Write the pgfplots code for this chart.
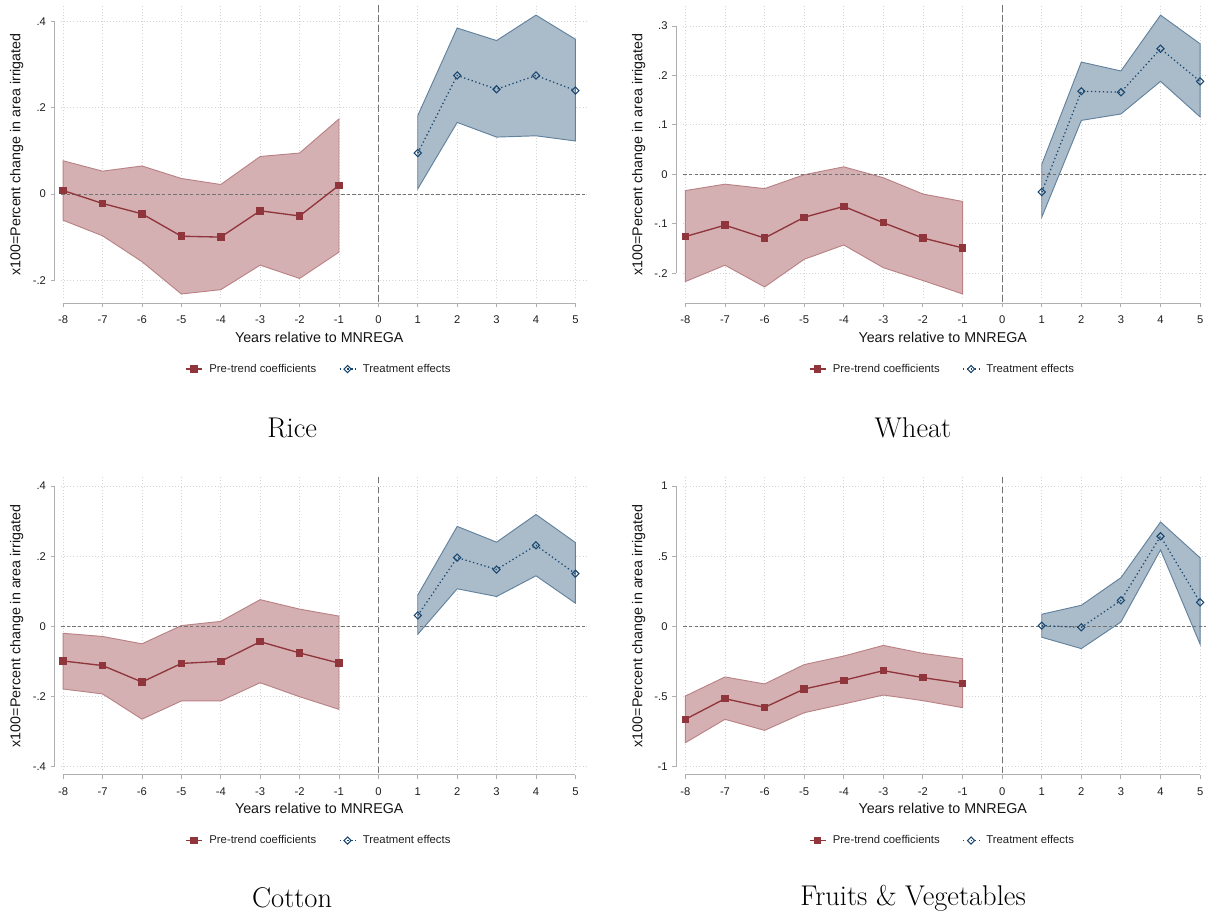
\documentclass[border=0pt]{standalone}
\usepackage{fontspec}
\usepackage{pgfplots}
\pgfplotsset{compat=1.18}
\usepackage{pgfplotstable}
\usepgfplotslibrary{fillbetween}
\newfontfamily\arial{Liberation Sans}

\definecolor{stmaroon}{RGB}{144,53,59}
\definecolor{stnavy}{RGB}{26,71,111}
\colorlet{prefill}{stmaroon!39!white}
\colorlet{preedge}{stmaroon!62!white}
\colorlet{postfill}{stnavy!37!white}
\colorlet{postedge}{stnavy!68!white}
\definecolor{axgray}{RGB}{175,175,175}
\definecolor{gridgray}{RGB}{212,212,212}
\definecolor{refgray}{RGB}{115,115,115}

\tikzset{paneltitle/.style={font=\fontsize{21.4}{25}\selectfont}}

% event-study estimates: x = year relative to MNREGA, b = point estimate, lo/hi = CI
\pgfplotstableread{
x   b       lo      hi
-8  0.008  -0.061   0.077
-7 -0.022  -0.097   0.053
-6 -0.046  -0.157   0.065
-5 -0.098  -0.232   0.036
-4 -0.100  -0.222   0.022
-3 -0.039  -0.165   0.087
-2 -0.051  -0.196   0.095
-1  0.020  -0.135   0.174
}\ricePre
\pgfplotstableread{
x   b       lo      hi
1   0.095   0.012   0.182
2   0.275   0.166   0.385
3   0.243   0.132   0.356
4   0.275   0.135   0.415
5   0.240   0.123   0.359
}\ricePost
\pgfplotstableread{
x   b       lo      hi
-8 -0.126  -0.217  -0.033
-7 -0.103  -0.184  -0.020
-6 -0.129  -0.228  -0.029
-5 -0.087  -0.172  -0.001
-4 -0.065  -0.143   0.015
-3 -0.098  -0.189  -0.007
-2 -0.129  -0.215  -0.040
-1 -0.149  -0.242  -0.055
}\wheatPre
\pgfplotstableread{
x   b       lo      hi
1  -0.036  -0.087   0.020
2   0.168   0.109   0.227
3   0.166   0.122   0.209
4   0.254   0.188   0.322
5   0.188   0.116   0.264
}\wheatPost
\pgfplotstableread{
x   b       lo      hi
-8 -0.099  -0.179  -0.020
-7 -0.112  -0.193  -0.029
-6 -0.159  -0.265  -0.050
-5 -0.106  -0.213   0.002
-4 -0.100  -0.213   0.014
-3 -0.044  -0.161   0.076
-2 -0.076  -0.201   0.049
-1 -0.105  -0.237   0.029
}\cottonPre
\pgfplotstableread{
x   b       lo      hi
1   0.031  -0.023   0.089
2   0.196   0.107   0.285
3   0.162   0.085   0.240
4   0.231   0.144   0.319
5   0.150   0.066   0.239
}\cottonPost
\pgfplotstableread{
x   b       lo      hi
-8 -0.663  -0.830  -0.497
-7 -0.516  -0.663  -0.361
-6 -0.578  -0.742  -0.411
-5 -0.447  -0.616  -0.273
-4 -0.385  -0.554  -0.212
-3 -0.316  -0.490  -0.136
-2 -0.366  -0.530  -0.193
-1 -0.407  -0.580  -0.231
}\fruitPre
\pgfplotstableread{
x   b       lo      hi
1   0.005  -0.078   0.086
2  -0.007  -0.159   0.150
3   0.185   0.031   0.347
4   0.642   0.545   0.744
5   0.171  -0.128   0.488
}\fruitPost

\pgfplotsset{
  evplot/.style={
    scale only axis, clip=false,
    axis x line=bottom, axis y line=left,
    axis line style={draw=none},
    axis x line shift=4pt,
    xmin=-8.05,
    xtick={-8,-7,-6,-5,-4,-3,-2,-1,0,1,2,3,4,5},
    xticklabels={-8,-7,-6,-5,-4,-3,-2,-1,0,1,2,3,4,5},
    tick align=outside, major tick length=3pt,
    tick style={draw=axgray, line width=0.7pt},
    grid=major,
    major grid style={draw=gridgray, line width=0.55pt, dash pattern=on 0.6pt off 1.7pt},
    tick label style={font=\arial\fontsize{8.4}{10}\selectfont, text=black!88},
    xticklabel style={yshift=-3pt},
    label style={font=\arial\fontsize{10.7}{12.8}\selectfont, text=black!92},
    xlabel={Years relative to MNREGA},
    ylabel={x100=Percent change in area irrigated},
    legend columns=2,
    legend image code/.code={\draw[mark repeat=2,mark phase=2,##1] plot coordinates {(0pt,0pt) (6pt,0pt) (12pt,0pt)};},
    legend style={draw=none, fill=none, anchor=center, yshift=-53.3pt,
      font=\arial\fontsize{8.5}{10}\selectfont, text=black!88,
      /tikz/every odd column/.append style={column sep=3pt},
      /tikz/every even column/.append style={column sep=15pt}},
  },
  leftpanel/.style={evplot, width=393.6pt, xmax=5.27, axis y line shift=4.9pt,
    ylabel style={at={(axis description cs:-0.0846,0.49)}, anchor=center},
    xlabel style={at={(axis description cs:0.4917,0)}, anchor=center, yshift=-29.3pt},
    legend style={at={(axis description cs:0.4917,0)}}},
  rightpanel/.style={evplot, width=392pt, xmax=5.15, axis y line shift=5.4pt,
    ylabel style={at={(axis description cs:-0.0855,0.49)}, anchor=center},
    xlabel style={at={(axis description cs:0.4962,0)}, anchor=center, yshift=-29.3pt},
    legend style={at={(axis description cs:0.4962,0)}}},
}

% bands, reference lines, estimates and axis lines of one panel
% #1 pre table, #2 post table, #3 lowest y tick, #4 highest y tick, #5 y axis offset
\newcommand{\evpanel}[5]{%
  \addplot[name path=prehi, draw=none, forget plot] table[x=x,y=hi]{#1};
  \addplot[name path=prelo, draw=none, forget plot] table[x=x,y=lo]{#1};
  \addplot[fill=prefill, draw=preedge, line width=0.7pt, forget plot] fill between[of=prehi and prelo];
  \addplot[name path=posthi, draw=none, forget plot] table[x=x,y=hi]{#2};
  \addplot[name path=postlo, draw=none, forget plot] table[x=x,y=lo]{#2};
  \addplot[fill=postfill, draw=postedge, line width=0.7pt, forget plot] fill between[of=posthi and postlo];
  \draw[refgray, line width=0.6pt, dash pattern=on 5pt off 2.5pt]
    (axis cs:0,\pgfkeysvalueof{/pgfplots/ymax}) -- ([yshift=-4pt]axis cs:0,\pgfkeysvalueof{/pgfplots/ymin});
  \draw[refgray, line width=0.6pt, dash pattern=on 2.6pt off 1.6pt]
    (axis cs:\pgfkeysvalueof{/pgfplots/xmin},0) -- (axis cs:\pgfkeysvalueof{/pgfplots/xmax},0);
  \addplot[stmaroon, line width=1pt, mark=square*, mark size=2.3pt,
    mark options={fill=stmaroon, draw=stmaroon}] table[x=x,y=b]{#1};
  \addlegendentry{Pre-trend coefficients}
  \addplot[stnavy, line width=0.95pt, dash pattern=on 0.95pt off 2pt, mark=square,
    mark size=1.9pt, mark options={solid, rotate=45, draw=stnavy, fill=white, line width=0.8pt}]
    table[x=x,y=b]{#2};
  \addlegendentry{Treatment effects}
  \draw[axgray, line width=0.75pt]
    ([yshift=-4pt]axis cs:-8,\pgfkeysvalueof{/pgfplots/ymin}) -- ([yshift=-4pt]axis cs:5,\pgfkeysvalueof{/pgfplots/ymin});
  \draw[axgray, line width=0.75pt]
    ([xshift=-#5]axis cs:\pgfkeysvalueof{/pgfplots/xmin},#3) -- ([xshift=-#5]axis cs:\pgfkeysvalueof{/pgfplots/xmin},#4);
}

\begin{document}
\begin{tikzpicture}

% Rice
\begin{axis}[leftpanel, at={(45.9pt,464.25pt)}, anchor=south west, height=219.75pt,
  ymin=-0.2413, ymax=0.4385, ytick={-0.2,0,0.2,0.4}, yticklabels={-.2,0,.2,.4}]
  \evpanel{\ricePre}{\ricePost}{-0.2}{0.4}{4.9pt}
  \node[paneltitle, yshift=-97.5pt] at (axis description cs:0.44,0) {Rice};
\end{axis}

% Wheat
\begin{axis}[rightpanel, at={(512.55pt,464.25pt)}, anchor=south west, height=219.75pt,
  ymin=-0.2503, ymax=0.3425, ytick={-0.2,-0.1,0,0.1,0.2,0.3}, yticklabels={-.2,-.1,0,.1,.2,.3}]
  \evpanel{\wheatPre}{\wheatPost}{-0.2}{0.3}{5.4pt}
  \node[paneltitle, yshift=-97.5pt] at (axis description cs:0.4393,0) {Wheat};
\end{axis}

% Cotton
\begin{axis}[leftpanel, at={(45.9pt,110.625pt)}, anchor=south west, height=219.6pt,
  ymin=-0.4086, ymax=0.4268, ytick={-0.4,-0.2,0,0.2,0.4}, yticklabels={-.4,-.2,0,.2,.4}]
  \evpanel{\cottonPre}{\cottonPost}{-0.4}{0.4}{4.9pt}
  \node[paneltitle, yshift=-96.4pt] at (axis description cs:0.44,0) {Cotton};
\end{axis}

% Fruits & Vegetables
\begin{axis}[rightpanel, at={(512.55pt,110.625pt)}, anchor=south west, height=219.6pt,
  ymin=-1.021, ymax=1.067, ytick={-1,-0.5,0,0.5,1}, yticklabels={-1,-.5,0,.5,1}]
  \evpanel{\fruitPre}{\fruitPost}{-1}{1}{5.4pt}
  \node[paneltitle, yshift=-96.4pt] at (axis description cs:0.4393,0) {Fruits \& Vegetables};
\end{axis}

% page frame
\pgfresetboundingbox
\path[use as bounding box] (0,0) rectangle (904.5pt,687.75pt);
\end{tikzpicture}
\end{document}
